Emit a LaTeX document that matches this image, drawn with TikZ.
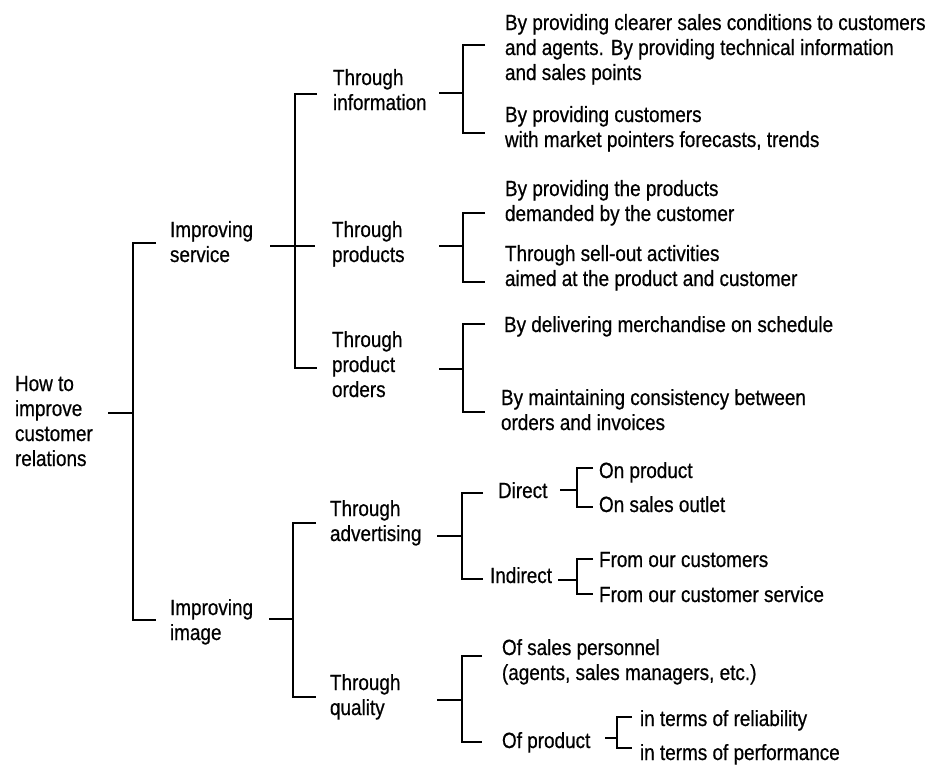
\documentclass[tikz,border=0pt]{standalone}
\usepackage{fontspec}
\setmainfont[FakeStretch=0.86,FakeBold=0.6]{Liberation Sans}
\tikzset{
  txt/.style={anchor=north west, inner sep=0pt, outer sep=0pt, align=left,
              font=\fontsize{22}{25}\selectfont, text=black},
  conn/.style={line width=2.8pt, line join=miter, draw=black}
}
% bracket: name, in-x, in-y, spine-x, arm-end-x, top-y, bottom-y
\newcommand\mybracket[7]{%
  \coordinate (#1-in) at (#2,#3);
  \coordinate (#1-sp) at (#4,#3);
  \coordinate (#1-top) at (#5,#6);
  \coordinate (#1-bot) at (#5,#7);
  \draw[conn] (#1-in) -- (#1-sp);
  \draw[conn] (#1-top) -- (#1-top -| #1-sp) -- (#1-bot -| #1-sp) -- (#1-bot);
}
\begin{document}
\begin{tikzpicture}[x=1pt,y=-1pt]
\useasboundingbox[fill=white] (0,0) rectangle (940,771);

% level 0
\node[txt] (root) at (15,373.5) {\strut How to\\improve\\customer\\relations};
% level 1
\node[txt] (svc) at (170,219.5) {\strut Improving\\service};
\node[txt] (img) at (170,597.5) {\strut Improving\\image};
% level 2
\node[txt] (tinfo) at (333,67.5) {\strut Through\\information};
\node[txt] (tprod) at (332,219.5) {\strut Through\\products};
\node[txt] (tord) at (332,329.5) {\strut Through\\product\\orders};
\node[txt] (tadv) at (330,498.5) {\strut Through\\advertising};
\node[txt] (tqual) at (330,672.5) {\strut Through\\quality};
% level 3
\node[txt] (iA) at (505,12.5) {\strut By providing clearer sales conditions to customers\\and agents. By providing technical information\\and sales points};
\node[txt] (iB) at (505,104.5) {\strut By providing customers\\with market pointers forecasts, trends};
\node[txt] (pA) at (505,178.5) {\strut By providing the products\\demanded by the customer};
\node[txt] (pB) at (505,243.5) {\strut Through sell-out activities\\aimed at the product and customer};
\node[txt] (oA) at (504,314.5) {\strut By delivering merchandise on schedule};
\node[txt] (oB) at (501,387.5) {\strut By maintaining consistency between\\orders and invoices};
\node[txt] (direct) at (498,480.5) {\strut Direct};
\node[txt] (indirect) at (490,565.5) {\strut Indirect};
\node[txt] (sales) at (502,637.5) {\strut Of sales personnel\\(agents, sales managers, etc.)};
\node[txt] (ofprod) at (502,730.5) {\strut Of product};
% level 4
\node[txt] (onprod) at (599,460.5) {\strut On product};
\node[txt] (onsales) at (599,494.5) {\strut On sales outlet};
\node[txt] (fromcust) at (599,549.5) {\strut From our customers};
\node[txt] (fromserv) at (599,584.5) {\strut From our customer service};
\node[txt] (rel) at (640,708.5) {\strut in terms of reliability};
\node[txt] (perf) at (640,742.5) {\strut in terms of performance};

% connectors
\mybracket{R}{108}{413}{133}{156}{243}{620}
\mybracket{S}{270}{246}{295}{317}{94}{368}
\coordinate (S-mid) at (315,246);
\draw[conn] (S-sp) -- (S-mid);
\mybracket{I}{269}{619}{293}{316}{523}{697}
\mybracket{TI}{439}{93}{463}{485}{45}{133}
\mybracket{TP}{439}{246}{463}{485}{213}{282}
\mybracket{TO}{439}{369}{463}{485}{324}{412}
\mybracket{TA}{437}{536}{462}{483}{493}{579}
\mybracket{TQ}{437}{700}{462}{482}{656}{742}
\mybracket{D}{560}{490}{577}{593}{468}{507}
\mybracket{N}{558}{580}{577}{593}{559}{594}
\mybracket{P}{605}{738}{617}{632}{717}{748}
\end{tikzpicture}
\end{document}
